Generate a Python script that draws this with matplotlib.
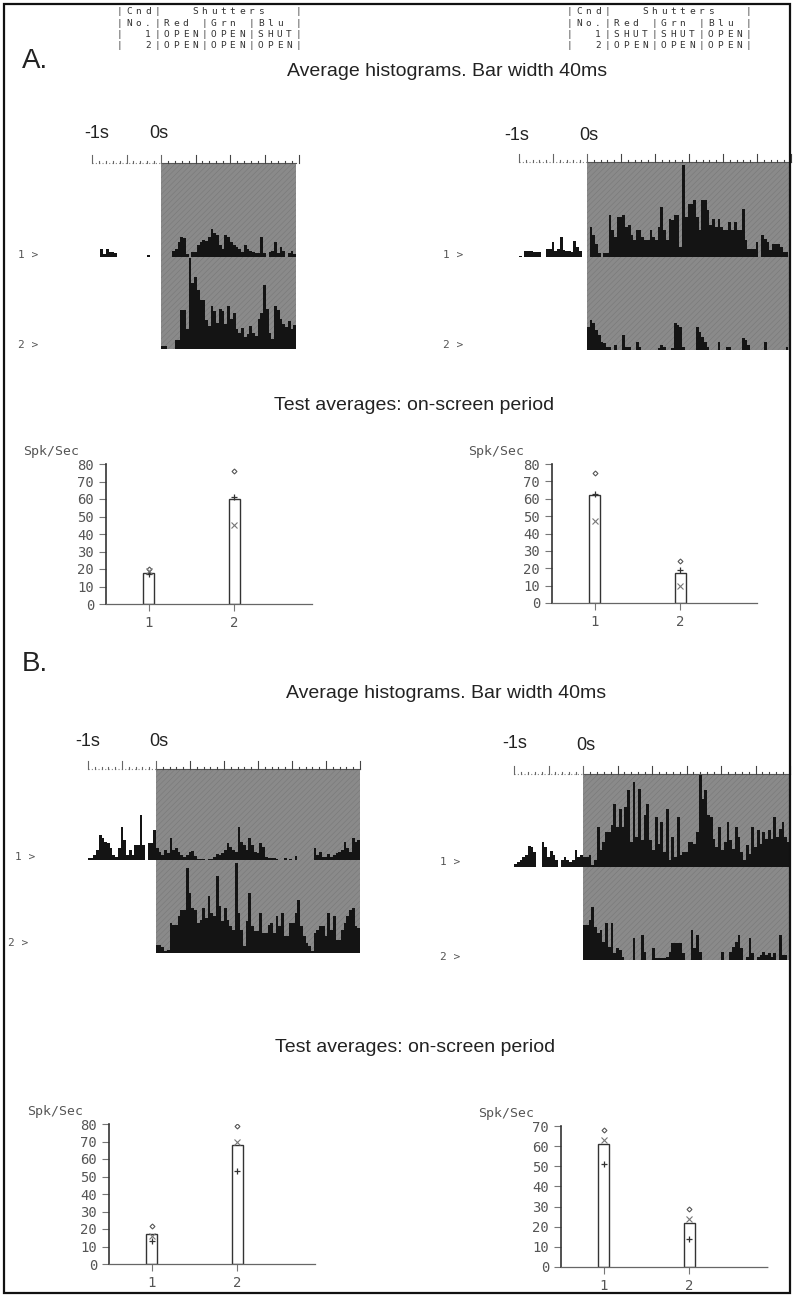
import matplotlib
matplotlib.use("Agg")
import matplotlib.pyplot as plt
from matplotlib.patches import Rectangle
import numpy as np

plt.rcParams['hatch.linewidth'] = 0.35

W, H = 794, 1297
BIN = 0.04  # 40 ms bins

# shutter tables
table_left = ["|Cnd|   Shutters   |",
              "|No.|Red |Grn |Blu |",
              "|  1|OPEN|OPEN|SHUT|",
              "|  2|OPEN|OPEN|OPEN|"]
table_right = ["|Cnd|   Shutters   |",
               "|No.|Red |Grn |Blu |",
               "|  1|SHUT|SHUT|OPEN|",
               "|  2|OPEN|OPEN|OPEN|"]

# histogram heights (row height ~ 93 units), condition 1 and 2
a_left_pre1 = [0, 0, 0, 8, 3, 8, 5, 5, 4, 0, 0, 0, 0, 0, 0, 0, 0, 0, 0, 0, 2, 0, 0, 0, 0]
a_left_post1 = [0, 0, 0, 0, 6, 8, 15, 20, 19, 3, 0, 5, 5, 12, 15, 17, 16, 20, 28, 24, 22, 12, 8, 22, 20,
                15, 12, 10, 8, 5, 12, 8, 6, 5, 4, 4, 20, 4, 0, 5, 6, 15, 4, 10, 6, 0, 4, 6, 3]
a_left_post2 = [3, 3, 0, 0, 0, 9, 9, 39, 39, 20, 91, 66, 72, 59, 49, 49, 29, 23, 43, 38, 26, 40, 38, 25, 43,
                30, 36, 20, 16, 21, 12, 15, 23, 16, 13, 30, 36, 64, 40, 16, 10, 43, 39, 30, 25, 22, 28, 20, 24]

a_right_pre1 = [1, 0, 6, 6, 6, 5, 5, 5, 0, 0, 8, 8, 15, 6, 8, 20, 7, 6, 6, 5, 16, 10, 6, 0, 0]
a_right_post1 = [0, 30, 22, 13, 4, 0, 4, 4, 42, 27, 20, 40, 40, 42, 30, 32, 22, 17, 27, 27, 20, 17, 17, 27, 20,
                 17, 30, 50, 27, 17, 38, 37, 42, 42, 10, 92, 40, 53, 53, 57, 40, 27, 57, 57, 47, 32, 38, 30, 38, 30,
                 27, 27, 35, 27, 35, 27, 27, 48, 17, 8, 8, 8, 15, 0, 22, 18, 15, 7, 13, 13, 13, 10, 5, 5, 0]
a_right_post2 = [23, 30, 27, 20, 15, 8, 7, 3, 3, 0, 5, 0, 0, 15, 3, 3, 0, 0, 8, 3, 0, 0, 0, 0, 0,
                 0, 2, 5, 3, 0, 0, 2, 27, 25, 23, 3, 0, 0, 0, 0, 23, 18, 13, 8, 3, 0, 0, 0, 8, 0,
                 0, 3, 3, 0, 0, 0, 0, 12, 10, 5, 0, 0, 0, 0, 0, 8, 0, 0, 0, 0, 0, 0, 0, 3, 0]

b_left_pre1 = [2, 2, 5, 10, 25, 22, 18, 17, 12, 5, 3, 12, 33, 20, 5, 10, 5, 15, 15, 45, 15, 0, 17, 17, 30]
b_left_post1 = [12, 8, 5, 10, 7, 22, 10, 12, 8, 5, 3, 5, 8, 9, 4, 1, 1, 1, 0, 1, 1, 3, 6, 5, 7,
                10, 17, 13, 10, 8, 33, 18, 15, 10, 22, 15, 8, 7, 17, 13, 3, 2, 2, 2, 1, 0, 0, 2, 0, 1,
                0, 4, 0, 0, 0, 0, 0, 0, 12, 5, 8, 3, 3, 6, 3, 5, 7, 8, 10, 18, 12, 8, 22, 18, 20]
b_left_post2 = [8, 8, 6, 2, 3, 30, 28, 28, 37, 43, 43, 85, 60, 45, 43, 30, 33, 45, 35, 57, 40, 37, 77, 47, 32,
                45, 33, 27, 23, 90, 40, 23, 7, 32, 60, 27, 22, 22, 40, 20, 20, 28, 30, 20, 37, 27, 40, 17, 17, 30,
                30, 40, 53, 27, 17, 10, 7, 2, 20, 23, 27, 27, 17, 40, 23, 37, 13, 13, 23, 30, 37, 43, 45, 27, 25]

b_right_pre1 = [3, 5, 7, 10, 12, 21, 20, 15, 0, 0, 25, 20, 10, 16, 12, 7, 0, 7, 10, 7, 5, 7, 17, 10, 12]
b_right_post1 = [10, 10, 12, 2, 7, 40, 17, 25, 35, 35, 42, 63, 40, 58, 40, 60, 77, 25, 85, 30, 78, 27, 52, 63, 27,
                 17, 50, 23, 45, 15, 58, 7, 30, 10, 50, 12, 15, 15, 25, 25, 23, 35, 92, 68, 77, 52, 50, 28, 20, 40,
                 17, 25, 45, 27, 18, 40, 30, 15, 7, 22, 13, 40, 20, 37, 23, 35, 28, 37, 28, 50, 30, 38, 45, 30, 25]
b_right_post2 = [35, 35, 40, 53, 33, 27, 30, 18, 37, 13, 37, 7, 12, 10, 3, 0, 0, 0, 22, 0, 0, 25, 8, 0, 0,
                 12, 2, 2, 2, 2, 3, 8, 17, 17, 17, 17, 7, 0, 0, 30, 12, 25, 8, 0, 0, 0, 0, 0, 0, 0,
                 8, 0, 0, 8, 13, 18, 25, 12, 0, 3, 22, 7, 0, 3, 5, 8, 5, 7, 3, 7, 0, 25, 5, 5, 0]

# test averages (Spk/Sec)
conditions = [1, 2]
a_left_rate = [18, 60]
a_left_diamond = [20, 76]
a_left_plus = [17, 61]
a_left_cross = [19, 45]

a_right_rate = [62, 17]
a_right_diamond = [75, 24]
a_right_plus = [63, 19]
a_right_cross = [47, 10]

b_left_rate = [17, 68]
b_left_diamond = [22, 79]
b_left_plus = [13, 53]
b_left_cross = [16, 70]

b_right_rate = [61, 22]
b_right_diamond = [68, 29]
b_right_plus = [51, 14]
b_right_cross = [63, 24]

fig = plt.figure(figsize=(W / 100, H / 100), dpi=100)
fig.patch.set_facecolor('white')

SANS = 'Liberation Sans'
MONO = 'DejaVu Sans Mono'
INK = '#222222'
GREY = '#555555'


def px_axes(x0, y0, x1, y1):
    return fig.add_axes([x0 / W, 1 - y1 / H, (x1 - x0) / W, (y1 - y0) / H])


def ftext(x, y, s, **kw):
    fig.text(x / W, 1 - y / H, s, **kw)


# outer frame
fig.add_artist(Rectangle((4 / W, 4 / H), 786 / W, 1289 / H, transform=fig.transFigure,
                         fill=False, edgecolor='#111111', lw=1.6))


def table(x_start, rows):
    # dot-matrix style: one character per fixed-width cell
    for i, line in enumerate(rows):
        for j, c in enumerate(line):
            if c == ' ':
                continue
            ftext(x_start + j * 9.4 + 4.7, 12 + i * 11.2, c, family=MONO, fontsize=6.8,
                  color='#333333', ha='center', va='center')


def histogram(xm1, x0, t_end, y_top, y_mid, y_bot, pre1, post1, post2):
    pps = x0 - xm1
    x_right = x0 + t_end * pps
    ax = px_axes(xm1, y_top - 12, x_right, y_bot)
    ax.set_xlim(-1, t_end)
    ax.set_ylim(0, y_bot - y_top + 12)
    ax.axis('off')
    h_tot = y_bot - y_top
    r1 = y_bot - y_mid
    ax.add_patch(Rectangle((0, 0), t_end, h_tot, facecolor='#8a8a8a', edgecolor='#767676',
                           hatch='//////', lw=0))
    ax.bar(-1 + BIN * np.arange(len(pre1)), pre1, width=BIN, bottom=r1, align='edge',
           color='#141414', lw=0)
    ax.bar(BIN * np.arange(len(post1)), post1, width=BIN, bottom=r1, align='edge',
           color='#141414', lw=0)
    ax.bar(BIN * np.arange(len(post2)), post2, width=BIN, bottom=0, align='edge',
           color='#141414', lw=0)
    # time ruler
    ax.plot([-1, 0], [h_tot, h_tot], ls=(0, (1, 2)), color='#888888', lw=0.8, clip_on=False)
    ax.plot([0, t_end], [h_tot, h_tot], color='#555555', lw=0.8, clip_on=False)
    for k in range(-10, int(round(t_end * 10)) + 1):
        t = k / 10
        hgt = 8 if k % 5 == 0 else 2
        col = '#666666' if k <= 0 else '#444444'
        ax.plot([t, t], [h_tot, h_tot + hgt], color=col, lw=0.8, clip_on=False)


def averages(x_axis, x_right, y0, ytop, ymax, rate, diamond, plus, cross, dotted_base=False):
    ax = px_axes(x_axis, ytop, x_right, y0)
    sp = 85.5
    ax.set_ylim(0, ymax)
    ax.set_xlim(0.5, 2 + (x_right - x_axis - 1.5 * sp) / sp)
    ax.bar(conditions, rate, width=0.13, facecolor='white', edgecolor='#333333', lw=1.0, zorder=2)
    ax.plot(conditions, diamond, ls='none', marker='D', ms=2.5, mfc='none', mec='#555555', mew=0.8, zorder=3)
    ax.plot(conditions, plus, ls='none', marker='+', ms=5, mec='#333333', mew=0.9, zorder=3)
    ax.plot(conditions, cross, ls='none', marker='x', ms=4, mec='#777777', mew=0.8, zorder=3)
    for s in ['top', 'right']:
        ax.spines[s].set_visible(False)
    ax.spines['left'].set_color('#333333')
    ax.spines['left'].set_linewidth(1.2)
    ax.spines['bottom'].set_color('#666666')
    ax.spines['bottom'].set_linewidth(0.9)
    if dotted_base:
        ax.spines['bottom'].set_linestyle((0, (1, 1)))
    ax.set_yticks(np.arange(0, ymax + 1, 10))
    ax.set_xticks(conditions)
    ax.tick_params(axis='both', direction='out', length=5, width=0.8, color='#777777',
                   labelcolor=GREY, labelsize=10)
    for lab in ax.get_xticklabels() + ax.get_yticklabels():
        lab.set_family(MONO)
    ax.patch.set_alpha(0)
    return ax


# ---------------- panel A ----------------
table(115, table_left)
table(565, table_right)

ftext(22, 61, 'A.', family=SANS, fontsize=20, color=INK, va='center')
ftext(447, 72, 'Average histograms. Bar width 40ms', family=SANS, fontsize=14, color=INK,
      ha='center', va='center')

histogram(92, 161, 1.96, 163, 257, 349, a_left_pre1, a_left_post1, a_left_post2)
histogram(519, 587, 3.0, 162, 257, 350, a_right_pre1, a_right_post1, a_right_post2)

for x, y, s in [(97, 134, '-1s'), (159, 134, '0s'), (517, 136, '-1s'), (589, 136, '0s')]:
    ftext(x, y, s, family=SANS, fontsize=13, color=INK, ha='center', va='center')
for x, y, s in [(18, 255, '1 >'), (18, 345, '2 >'), (443, 255, '1 >'), (443, 345, '2 >')]:
    ftext(x, y, s, family=MONO, fontsize=8, color=GREY, va='center')

ftext(414, 405, 'Test averages: on-screen period', family=SANS, fontsize=14, color=INK,
      ha='center', va='center')

averages(106, 312, 604, 464, 80, a_left_rate, a_left_diamond, a_left_plus, a_left_cross)
averages(552, 757, 603, 464, 80, a_right_rate, a_right_diamond, a_right_plus, a_right_cross)
ftext(23, 452, 'Spk/Sec', family=MONO, fontsize=9.5, color=GREY, va='center')
ftext(468, 452, 'Spk/Sec', family=MONO, fontsize=9.5, color=GREY, va='center')

# ---------------- panel B ----------------
ftext(22, 664, 'B.', family=SANS, fontsize=20, color=INK, va='center')
ftext(446, 693, 'Average histograms. Bar width 40ms', family=SANS, fontsize=14, color=INK,
      ha='center', va='center')

histogram(88, 156, 3.0, 769, 860, 953, b_left_pre1, b_left_post1, b_left_post2)
histogram(514, 583, 3.0, 774, 867, 960, b_right_pre1, b_right_post1, b_right_post2)

for x, y, s in [(88, 742, '-1s'), (159, 742, '0s'), (515, 743, '-1s'), (586, 745, '0s')]:
    ftext(x, y, s, family=SANS, fontsize=13, color=INK, ha='center', va='center')
for x, y, s in [(15, 857, '1 >'), (8, 943, '2 >'), (440, 862, '1 >'), (440, 957, '2 >')]:
    ftext(x, y, s, family=MONO, fontsize=8, color=GREY, va='center')

ftext(415, 1048, 'Test averages: on-screen period', family=SANS, fontsize=14, color=INK,
      ha='center', va='center')

averages(109, 315, 1264, 1124, 80, b_left_rate, b_left_diamond, b_left_plus, b_left_cross)
averages(561, 768, 1267, 1126, 70, b_right_rate, b_right_diamond, b_right_plus, b_right_cross,
         dotted_base=True)
ftext(27, 1112, 'Spk/Sec', family=MONO, fontsize=9.5, color=GREY, va='center')
ftext(478, 1114, 'Spk/Sec', family=MONO, fontsize=9.5, color=GREY, va='center')

fig.savefig('out.png', dpi=100)
